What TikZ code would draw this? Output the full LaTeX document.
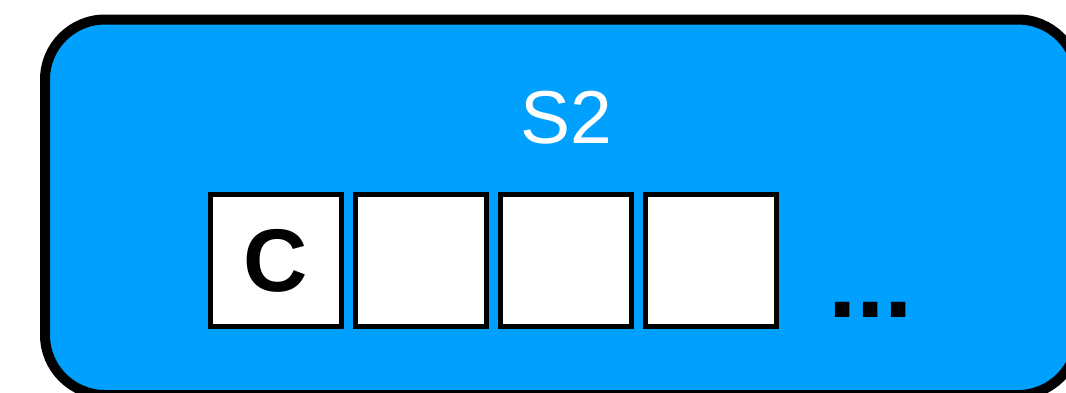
\documentclass[tikz,border=0pt]{standalone}
\usepackage{fontspec}
\setmainfont{Liberation Sans}
\definecolor{sblue}{RGB}{0,160,255}
\tikzset{
  cell/.style={draw=black, fill=white, line width=5pt, minimum width=131pt, minimum height=132pt, inner sep=0pt},
  outerbox/.style={draw=black, fill=sblue, line width=10pt, rounded corners=60pt}
}
\begin{document}
\begin{tikzpicture}[x=1pt,y=-1pt]
\useasboundingbox (0,0) rectangle (1066,392);
\clip (0,0) rectangle (1066,392);
\draw[outerbox] (45,19.5) rectangle (1078,395);
\node[text=white, font=\fontsize{75}{80}\selectfont, anchor=base] (title) at (566,143) {S2};
\node[cell, font=\bfseries\fontsize{89}{95}\selectfont] (c1) at (276,260.5) {C};
\node[cell] (c2) at (421,260.5) {};
\node[cell] (c3) at (566,260.5) {};
\node[cell] (c4) at (711,260.5) {};
\node[font=\bfseries\fontsize{102}{110}\selectfont, anchor=base west, inner sep=0pt] (dots) at (828,317) {...};
\end{tikzpicture}
\end{document}
